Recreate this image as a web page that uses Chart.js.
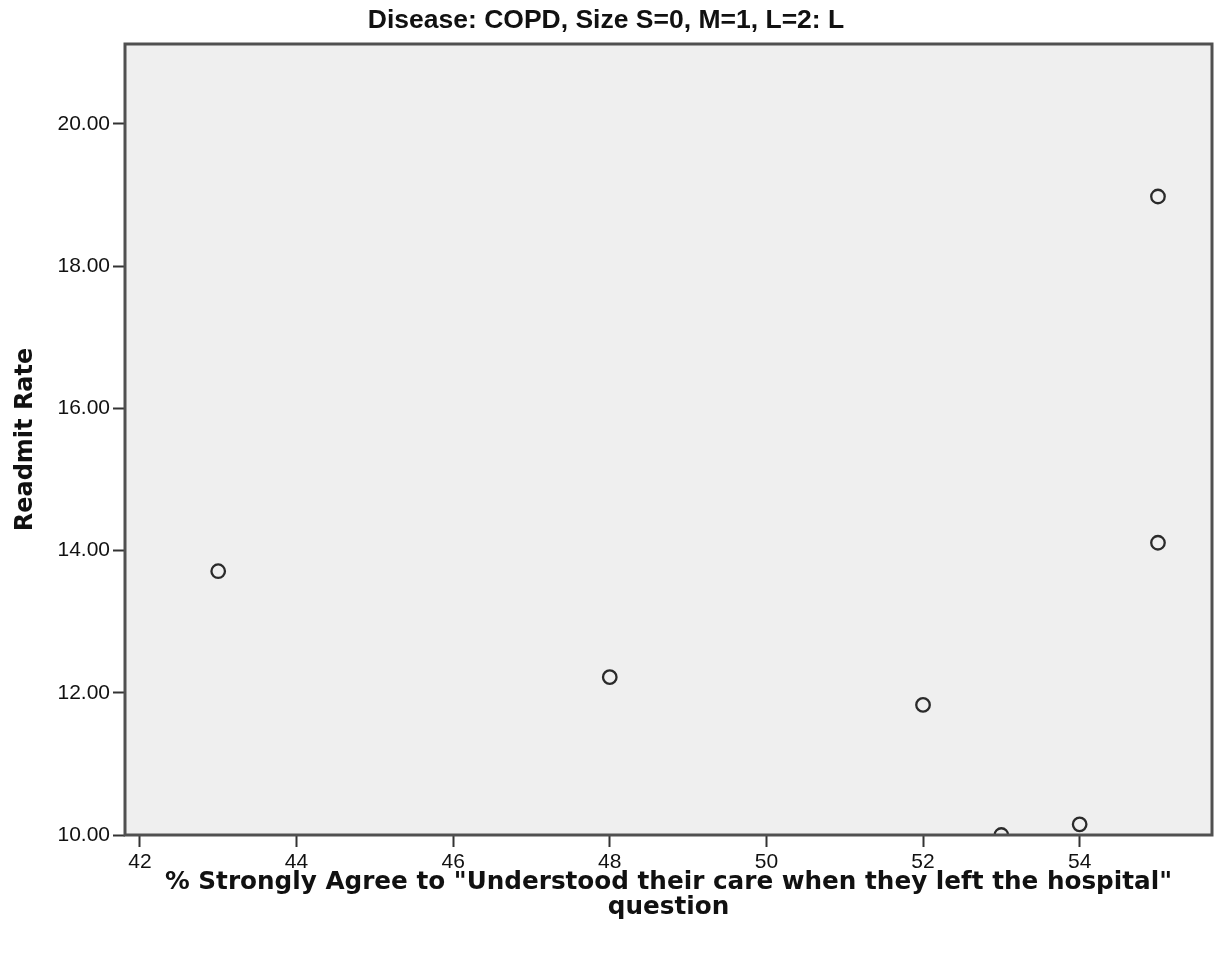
<!DOCTYPE html>
<html>
<head>
<meta charset="utf-8">
<script src="https://cdn.jsdelivr.net/npm/chart.js@4.4.0/dist/chart.umd.min.js"></script>
<style>
  body { margin: 0; background: #fff; }
  #wrap { width: 1215px; height: 955px; }
</style>
</head>
<body>
<div id="wrap"><canvas id="scatterChart" width="1215" height="955"></canvas></div>
<script>
// values
const understood = [43, 48, 52, 53, 54, 55, 55];
const readmitRate = [13.71, 12.22, 11.83, 10.0, 10.15, 18.98, 14.11];
const xTicks = [42, 44, 46, 48, 50, 52, 54];
const yTicks = [10, 12, 14, 16, 18, 20];
const xRange = [41.81, 55.69];
const yRange = [10, 21.125];

const points = understood.map((x, i) => ({ x: x, y: readmitRate[i] }));

// grey plot background + dark frame like SPSS output
const frame = {
  id: 'frame',
  beforeDatasetsDraw(chart) {
    const a = chart.chartArea;
    const ctx = chart.ctx;
    ctx.save();
    ctx.fillStyle = '#efefef';
    ctx.fillRect(a.left, a.top, a.right - a.left, a.bottom - a.top);
    ctx.restore();
  },
  afterDatasetsDraw(chart) {
    const a = chart.chartArea;
    const ctx = chart.ctx;
    ctx.save();
    ctx.strokeStyle = '#505050';
    ctx.lineWidth = 3;
    ctx.strokeRect(a.left, a.top, a.right - a.left, a.bottom - a.top);
    ctx.restore();
  }
};

const tickFont = { family: 'Liberation Sans, Arial, sans-serif', size: 21 };
const xTitleFont = { family: 'DejaVu Sans, Tahoma, sans-serif', size: 24.7, weight: 'bold', lineHeight: '25px' };
const yTitleFont = { family: 'DejaVu Sans, Tahoma, sans-serif', size: 24, weight: 'bold', lineHeight: '25px' };

new Chart(document.getElementById('scatterChart'), {
  type: 'scatter',
  data: {
    datasets: [{
      data: points,
      pointStyle: 'circle',
      pointRadius: 6.75,
      pointHoverRadius: 6.75,
      borderWidth: 2.3,
      borderColor: '#2a2a2a',
      backgroundColor: 'rgba(0,0,0,0)',
      clip: 0
    }]
  },
  plugins: [frame],
  options: {
    responsive: false,
    animation: false,
    layout: { autoPadding: false, padding: { left: 0, right: 3, top: 0, bottom: 0 } },
    plugins: {
      legend: { display: false },
      tooltip: { enabled: false },
      title: {
        display: true,
        text: 'Disease: COPD, Size S=0, M=1, L=2: L',
        color: '#111',
        font: { family: 'Liberation Sans Narrow, Arial Narrow, Liberation Sans, sans-serif', size: 26.5, weight: 'bold', lineHeight: '29px' },
        padding: { top: 6, bottom: 9 }
      }
    },
    scales: {
      x: {
        type: 'linear',
        min: xRange[0],
        max: xRange[1],
        afterBuildTicks: s => { s.ticks = xTicks.map(v => ({ value: v })); },
        afterFit: s => { s.height = 120; s.paddingLeft = 0; s.paddingRight = 0; },
        grid: { drawOnChartArea: false, tickLength: 12, tickWidth: 2, tickColor: '#333' },
        border: { display: false },
        ticks: { color: '#111', font: tickFont, padding: 3, maxRotation: 0 },
        title: {
          display: true,
          text: ['% Strongly Agree to "Understood their care when they left the hospital"', 'question'],
          color: '#111',
          font: xTitleFont,
          padding: { top: 0, bottom: 35 }
        }
      },
      y: {
        type: 'linear',
        min: yRange[0],
        max: yRange[1],
        afterBuildTicks: s => { s.ticks = yTicks.map(v => ({ value: v })); },
        afterFit: s => { s.width = 125; s.paddingTop = 0; s.paddingBottom = 0; },
        grid: { drawOnChartArea: false, tickLength: 12, tickWidth: 2, tickColor: '#333' },
        border: { display: false },
        ticks: { color: '#111', font: tickFont, padding: 3, callback: v => v.toFixed(2) },
        title: {
          display: true,
          text: 'Readmit Rate',
          color: '#111',
          font: yTitleFont,
          padding: { top: 13, bottom: 0 }
        }
      }
    }
  }
});
</script>
</body>
</html>
